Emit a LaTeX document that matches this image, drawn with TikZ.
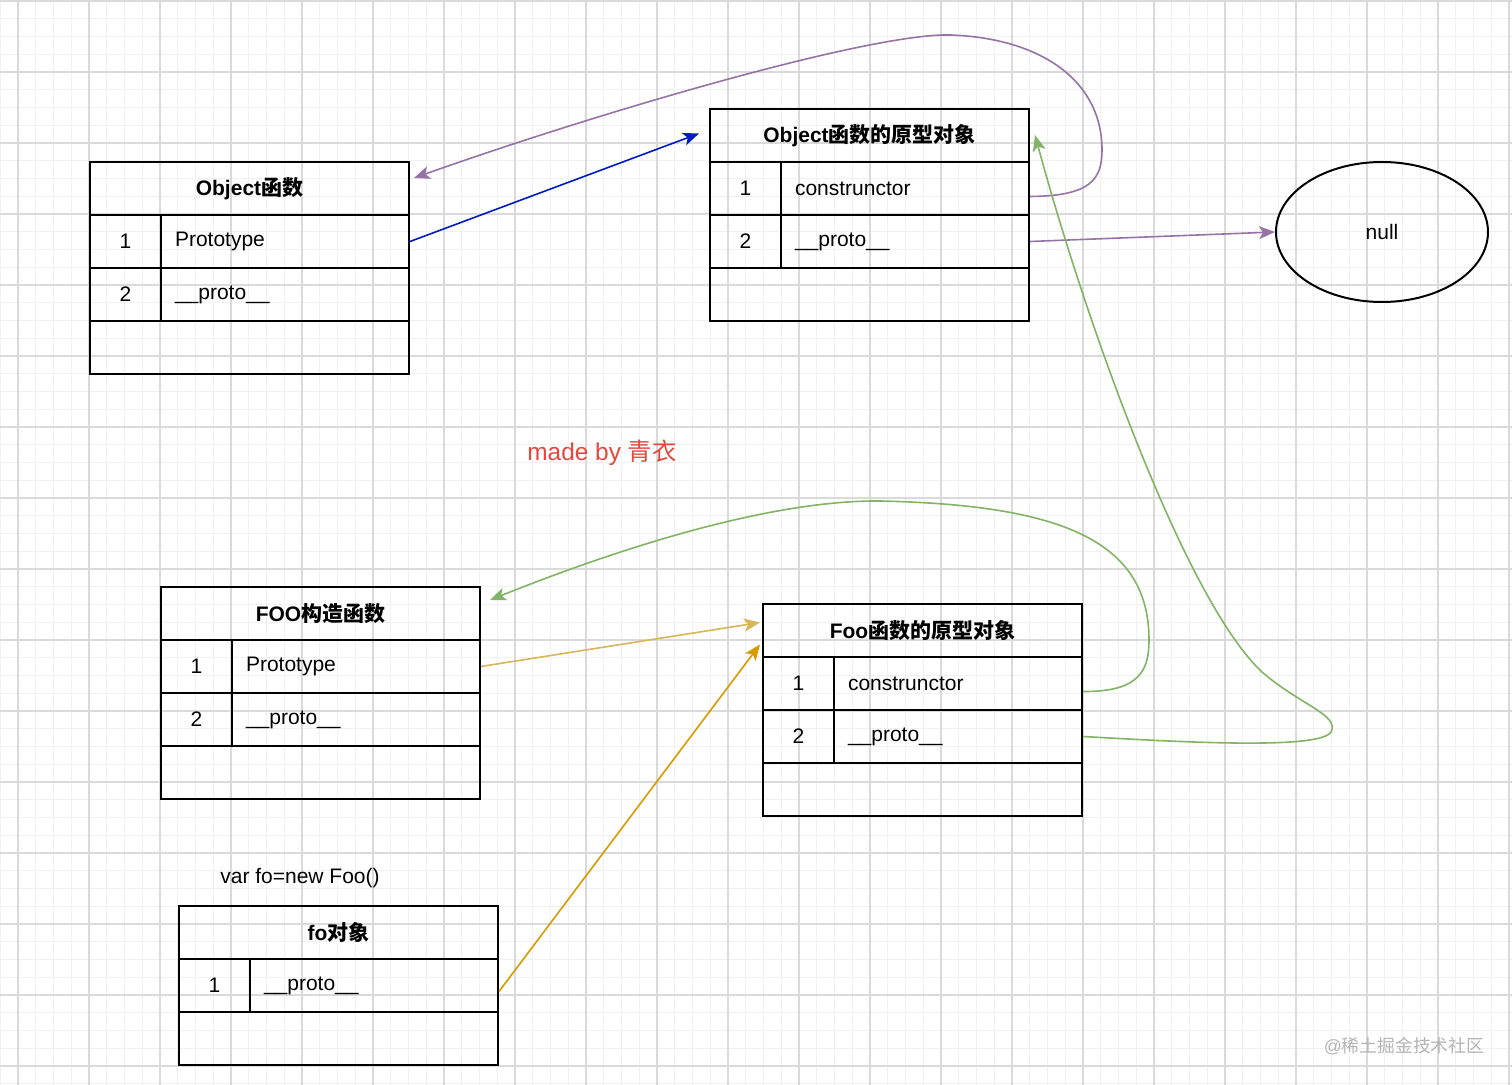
\documentclass[tikz,border=0pt]{standalone}
\usepackage{fontspec}
\setmainfont{Liberation Sans}
\newfontfamily\cjk{Noto Sans CJK SC}
\usetikzlibrary{arrows.meta, shapes.geometric}

\definecolor{gridminor}{HTML}{F1F1F1}
\definecolor{gridmajor}{HTML}{DADADA}
\definecolor{linkblue}{HTML}{001DBC}
\definecolor{linkpurple}{HTML}{9673A6}
\definecolor{linkgreen}{HTML}{82B366}
\definecolor{linkyellow}{HTML}{D6B656}
\definecolor{linkorange}{HTML}{D79B00}
\definecolor{signred}{HTML}{E5463D}
\definecolor{markgray}{HTML}{B4B4B4}

\begin{document}
\begin{tikzpicture}[x=0.5pt, y=-0.5pt,
    every node/.style={font=\fontsize{10.5}{12}\selectfont},
    cell/.style={draw, line width=1pt, anchor=north west, inner sep=0pt,
      minimum height=26.5pt},
    hd/.style={cell, minimum width=159.5pt, font=\fontsize{10.5}{12}\selectfont\bfseries},
    idx/.style={cell, minimum width=35.5pt},
    fld/.style={cell, inner xsep=7pt, text width=110pt, align=left},
    blank/.style={cell, minimum width=159.5pt},
    link/.style={line width=0.8pt, -{Stealth[length=8pt, width=6.5pt, inset=2pt]}}]
  \useasboundingbox (0,0) rectangle (1512,1085);
  \fill[white] (0,0) rectangle (1512,1085);
  % background grid
  \foreach \i in {-1,...,84}
    \draw[gridminor, line width=0.5pt] (18+17.75*\i,0) -- (18+17.75*\i,1085);
  \foreach \j in {0,...,61}
    \draw[gridminor, line width=0.5pt] (0,1+17.75*\j) -- (1512,1+17.75*\j);
  \foreach \i in {0,...,21}
    \draw[gridmajor, line width=0.6pt] (18+71*\i,0) -- (18+71*\i,1085);
  \foreach \j in {0,...,15}
    \draw[gridmajor, line width=0.6pt] (0,1+71*\j) -- (1512,1+71*\j);

  % Object function
  \node[hd] (objfn) at (89,161) {Object{\cjk 函数}};
  \node[idx] (objfn-i1) at (89,214) {1};
  \node[fld] (objfn-f1) at (160,214) {Prototype};
  \node[idx] (objfn-i2) at (89,267) {2};
  \node[fld] (objfn-f2) at (160,267) {\_\_proto\_\_};
  \node[blank] (objfn-e) at (89,320) {};

  % Object prototype
  \node[hd] (objpt) at (709,108) {Object{\cjk 函数的原型对象}};
  \node[idx] (objpt-i1) at (709,161) {1};
  \node[fld] (objpt-f1) at (780,161) {construnctor};
  \node[idx] (objpt-i2) at (709,214) {2};
  \node[fld] (objpt-f2) at (780,214) {\_\_proto\_\_};
  \node[blank] (objpt-e) at (709,267) {};

  \node[draw, ellipse, line width=1pt, minimum width=106pt, minimum height=70pt]
    (null) at (1382,232) {null};

  % FOO constructor
  \node[hd] (foofn) at (160,586) {FOO{\cjk 构造函数}};
  \node[idx] (foofn-i1) at (160,639) {1};
  \node[fld] (foofn-f1) at (231,639) {Prototype};
  \node[idx] (foofn-i2) at (160,692) {2};
  \node[fld] (foofn-f2) at (231,692) {\_\_proto\_\_};
  \node[blank] (foofn-e) at (160,745) {};

  % Foo prototype
  \node[hd] (foopt) at (762,603) {Foo{\cjk 函数的原型对象}};
  \node[idx] (foopt-i1) at (762,656) {1};
  \node[fld] (foopt-f1) at (833,656) {construnctor};
  \node[idx] (foopt-i2) at (762,709) {2};
  \node[fld] (foopt-f2) at (833,709) {\_\_proto\_\_};
  \node[blank] (foopt-e) at (762,762) {};

  % fo object
  \node (newfo) at (300,878) {var fo=new Foo()};
  \node[hd] (fo) at (178,905) {fo{\cjk 对象}};
  \node[idx] (fo-i1) at (178,958) {1};
  \node[fld] (fo-f1) at (249,958) {\_\_proto\_\_};
  \node[blank] (fo-e) at (178,1011) {};

  \node[text=signred, font=\fontsize{12.2}{14}\selectfont] (sign) at (602,453)
    {made by {\cjk 青衣}};
  \node[text=markgray, font=\fontsize{8.9}{10}\selectfont] (mark) at (1404,1046)
    {@{\cjk 稀土掘金技术社区}};

  % links
  \draw[link, linkblue] (objfn-f1.east) -- ([xshift=-5pt, yshift=1pt]objpt.west);
  \draw[link, linkpurple] ([yshift=-4pt]objpt-f1.east)
    .. controls (1090,196) and (1102,180) .. (1102,150)
    .. controls (1102,80) and (1040,38) .. (950,35)
    .. controls (870,33) and (600,112) .. ([xshift=2pt, yshift=-8.5pt]objfn.north east);
  \draw[link, linkpurple] (objpt-f2.east) -- (null.west);
  \draw[link, linkgreen] ([yshift=-4pt]foopt-f1.east)
    .. controls (1140,692) and (1149,670) .. (1149,640)
    .. controls (1149,540) and (1060,505) .. (880,501)
    .. controls (770,500) and (620,548) .. ([xshift=4.5pt, yshift=-7pt]foofn.north east);
  \draw[link, linkgreen] (foopt-f2.east)
    .. controls (1180,742) and (1320,750) .. (1331,732)
    .. controls (1340,715) and (1300,705) .. (1262,672)
    .. controls (1185,600) and (1085,320) .. ([xshift=2.5pt, yshift=-13.5pt]objpt.north east);
  \draw[link, linkyellow] (foofn-f1.east) -- ([xshift=-1pt, yshift=4pt]foopt.west);
  \draw[link, linkorange] ([yshift=-3pt]fo-f1.east) -- ([xshift=-1pt, yshift=-7pt]foopt.west);
\end{tikzpicture}
\end{document}
